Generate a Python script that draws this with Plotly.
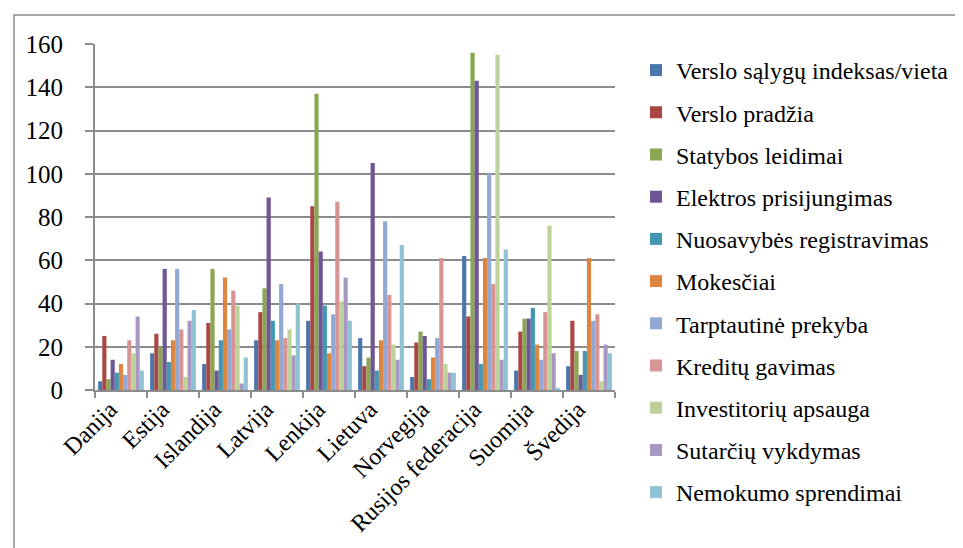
"""Doing Business rankings: Baltic and Nordic countries, grouped bars."""

import plotly.graph_objects as go

countries = ["Danija", "Estija", "Islandija", "Latvija", "Lenkija", "Lietuva",
             "Norvegija", "Rusijos federacija", "Suomija", "Švedija"]

series_names = [
    "Verslo sąlygų indeksas/vieta",
    "Verslo pradžia",
    "Statybos leidimai",
    "Elektros prisijungimas",
    "Nuosavybės registravimas",
    "Mokesčiai",
    "Tarptautinė prekyba",
    "Kreditų gavimas",
    "Investitorių apsauga",
    "Sutarčių vykdymas",
    "Nemokumo sprendimai",
]

verslo_salygu = [4, 17, 12, 23, 32, 24, 6, 62, 9, 11]
verslo_pradzia = [25, 26, 31, 36, 85, 11, 22, 34, 27, 32]
statybos = [5, 20, 56, 47, 137, 15, 27, 156, 33, 18]
elektros = [14, 56, 9, 89, 64, 105, 25, 143, 33, 7]
nuosavybes = [8, 13, 23, 32, 39, 9, 5, 12, 38, 18]
mokesciai = [12, 23, 52, 23, 17, 23, 15, 61, 21, 61]
prekyba = [7, 56, 28, 49, 35, 78, 24, 100, 14, 32]
kreditai = [23, 28, 46, 24, 87, 44, 61, 49, 36, 35]
investitoriai = [17, 6, 39, 28, 41, 21, 12, 155, 76, 4]
sutartys = [34, 32, 3, 16, 52, 14, 8, 14, 17, 21]
nemokumas = [9, 37, 15, 40, 32, 67, 8, 65, 1, 17]

series_values = [verslo_salygu, verslo_pradzia, statybos, elektros, nuosavybes,
                 mokesciai, prekyba, kreditai, investitoriai, sutartys, nemokumas]

colors = ["#4A76AC", "#AA4744", "#8AA650", "#6E5594", "#4198B2", "#DE8640",
          "#93A9D3", "#D69594", "#BDD19B", "#A698C0", "#90C2D4"]

FONT = "Liberation Serif"
GRID = "#8C8C8C"

fig = go.Figure()
for i, (name, vals) in enumerate(zip(series_names, series_values)):
    fig.add_trace(go.Bar(
        name=name, x=countries, y=vals,
        marker=dict(color=colors[i], line=dict(width=0)),
        legendgroup=f"g{i}",
    ))

# plot area in pixels: x 87..607, y 36..382
L, R, T, B = 87, 963 - 607, 36, 548 - 382
pw, ph = 963 - L - R, 548 - T - B

fig.update_layout(
    width=963, height=548,
    margin=dict(l=L, r=R, t=T, b=B),
    paper_bgcolor="white", plot_bgcolor="white",
    font=dict(family=FONT, size=24, color="black"),
    barmode="group", bargap=0.12, bargroupgap=0,
    showlegend=True,
    legend=dict(
        x=(628 - L) / pw, xanchor="left",
        y=(382 - 40) / ph, yanchor="top",
        font=dict(family=FONT, size=24, color="black"),
        tracegroupgap=8, itemwidth=30,
        maxheight=530,
        bgcolor="rgba(0,0,0,0)",
    ),
    xaxis=dict(
        type="category", tickangle=-45, tickson="boundaries",
        ticks="outside", ticklen=6, tickcolor=GRID, tickwidth=2,
        showline=True, linecolor=GRID, linewidth=2,
        showgrid=False,
        ticklabelshift=-11, ticklabelstandoff=-6,
        tickfont=dict(family=FONT, size=24, color="black"),
    ),
    yaxis=dict(
        range=[0, 160], dtick=20, tick0=0,
        ticks="outside", ticklen=8, tickcolor=GRID, tickwidth=2,
        showline=True, linecolor=GRID, linewidth=2,
        showgrid=True, gridcolor=GRID, gridwidth=2,
        zeroline=False,
        ticklabelstandoff=17,
        tickfont=dict(family=FONT, size=25, color="black"),
    ),
    shapes=[dict(
        type="rect", xref="paper", yref="paper",
        x0=(6 - L) / pw, x1=(975 - L) / pw,
        y0=(382 - 560) / ph, y1=(382 - 7) / ph,
        line=dict(color=GRID, width=1.5), fillcolor="rgba(0,0,0,0)",
        layer="below",
    )],
)

fig.write_html("out.html")
